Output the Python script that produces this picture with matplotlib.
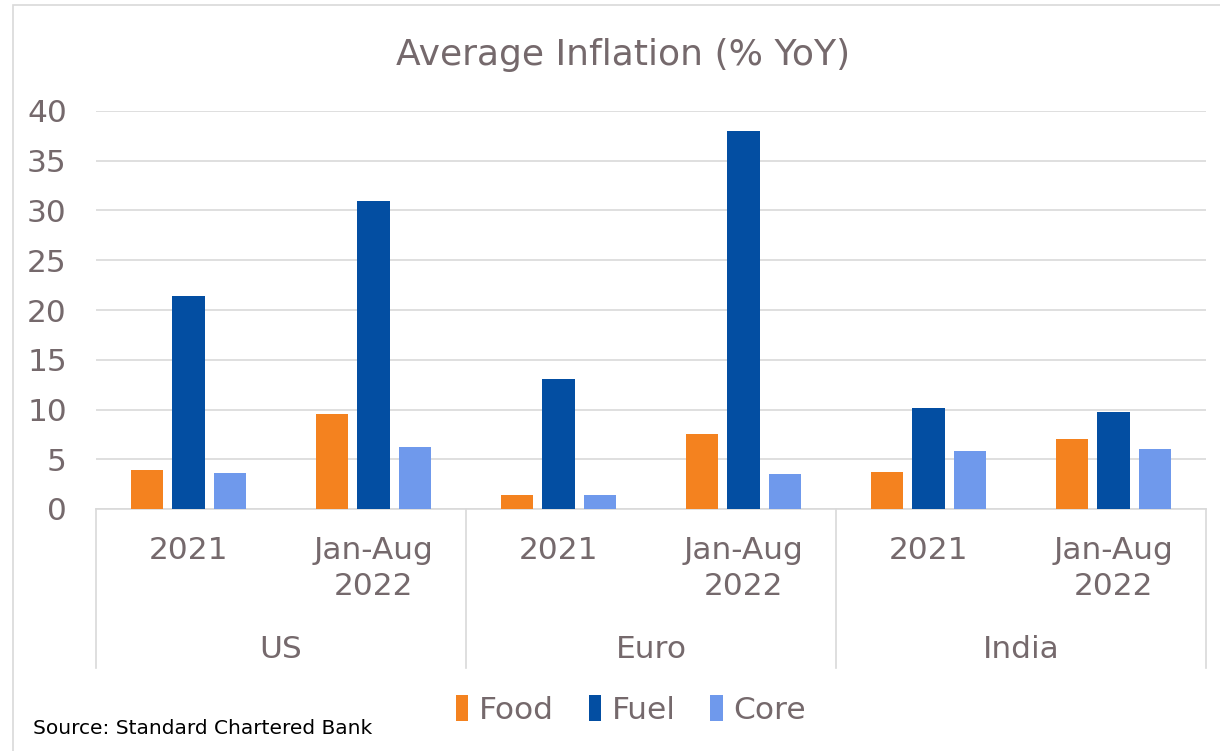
import numpy as np
import matplotlib.pyplot as plt
from matplotlib.patches import Rectangle
from matplotlib.transforms import blended_transform_factory

regions = ["US", "Euro", "India"]
periods = ["2021", "Jan-Aug\n2022"]
series = ["Food", "Fuel", "Core"]

food = [3.9, 9.5, 1.4, 7.5, 3.7, 7.0]
fuel = [21.4, 31.0, 13.1, 38.0, 10.2, 9.7]
core = [3.6, 6.2, 1.4, 3.5, 5.8, 6.0]

colors = ["#F4821F", "#034EA2", "#6F99EC"]
text_col = "#75696C"
grid_col = "#D9D9D9"

fig = plt.figure(figsize=(12.2, 7.51), dpi=100)
W, H = 1220, 751

def fx(px):
    return px / W

def fy(py):
    return 1 - py / H

ax = fig.add_axes([fx(96), fy(509), fx(1206) - fx(96), fy(111) - fy(509)])

x = np.arange(len(food))
width = 0.173
step = 0.222
for i, (name, vals) in enumerate(zip(series, [food, fuel, core])):
    ax.bar(x + (i - 1) * step, vals, width, color=colors[i], label=name, zorder=3)

ax.set_xlim(-0.5, len(food) - 0.5)
ax.set_ylim(0, 40)
ax.set_yticks(np.arange(0, 41, 5))
ax.set_xticks([])
ax.tick_params(axis="y", length=0, pad=21, labelsize=22.5, labelcolor=text_col)
ax.grid(axis="y", color=grid_col, linewidth=1.2, zorder=0)
for side in ["left", "right", "top"]:
    ax.spines[side].set_visible(False)
ax.spines["bottom"].set_color(grid_col)
ax.spines["bottom"].set_linewidth(1.2)

# two-level category axis below the bars
trans = blended_transform_factory(ax.transData, fig.transFigure)
for k, xi in enumerate(x):
    ax.text(xi, fy(536), periods[k % 2], transform=trans, ha="center", va="top",
            fontsize=22.5, color=text_col, linespacing=1.3)
for g, name in enumerate(regions):
    ax.text(2 * g + 0.5, fy(650), name, transform=trans, ha="center", va="center",
            fontsize=22.5, color=text_col)
for b in [-0.5, 1.5, 3.5, 5.5]:
    ax.plot([b, b], [fy(509), fy(668)], transform=trans, color=grid_col,
            linewidth=1.2, clip_on=False)

fig.text(fx(623), fy(55), "Average Inflation (% YoY)", ha="center", va="center",
         fontsize=26, color=text_col)

fig.legend(loc="center", bbox_to_anchor=(fx(631), fy(710)), ncol=3, frameon=False,
           fontsize=22.5, labelcolor=text_col, handlelength=0.4, handleheight=0.9,
           handletextpad=0.35, columnspacing=1.1)

fig.text(fx(33), fy(729), "Source: Standard Chartered Bank", ha="left", va="center",
         fontsize=14.5, color="black")

# chart frame
fig.patches.append(Rectangle((fx(13), -0.1), 1.2, fy(5) + 0.1, transform=fig.transFigure,
                             fill=False, edgecolor=grid_col, linewidth=1.2))

fig.savefig("out.png", dpi=100)
